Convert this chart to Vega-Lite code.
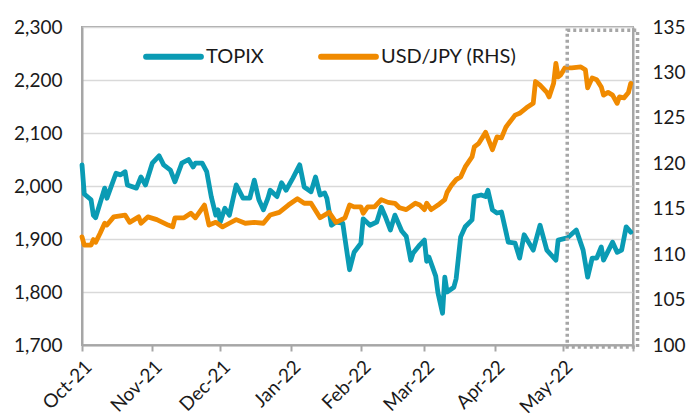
{
  "$schema": "https://vega.github.io/schema/vega-lite/v6.json",
  "width": 551,
  "height": 318,
  "autosize": "none",
  "padding": {"left": 82, "top": 27, "right": 56, "bottom": 72},
  "background": "white",
  "config": {
    "font": "Lato",
    "view": {"stroke": "#a6a6a6", "strokeWidth": 2},
    "axis": {"labelFont": "Lato", "labelFontSize": 19, "labelColor": "#1a1a1a", "domainColor": "#a6a6a6", "domainWidth": 2, "tickColor": "#a6a6a6", "tickWidth": 2, "gridColor": "#d9d9d9", "gridWidth": 1.5, "title": null},
    "legend": {"labelFont": "Lato", "labelFontSize": 20, "labelColor": "#1a1a1a"}
  },
  "datasets": {
    "topix": [
      {"date": "2021-10-01", "series": "TOPIX", "value": 2040},
      {"date": "2021-10-02", "series": "TOPIX", "value": 1985},
      {"date": "2021-10-05", "series": "TOPIX", "value": 1974},
      {"date": "2021-10-06", "series": "TOPIX", "value": 1945},
      {"date": "2021-10-07", "series": "TOPIX", "value": 1940},
      {"date": "2021-10-11", "series": "TOPIX", "value": 1996},
      {"date": "2021-10-12", "series": "TOPIX", "value": 1977},
      {"date": "2021-10-16", "series": "TOPIX", "value": 2024},
      {"date": "2021-10-18", "series": "TOPIX", "value": 2021},
      {"date": "2021-10-20", "series": "TOPIX", "value": 2027},
      {"date": "2021-10-21", "series": "TOPIX", "value": 2002},
      {"date": "2021-10-25", "series": "TOPIX", "value": 1996},
      {"date": "2021-10-27", "series": "TOPIX", "value": 2017},
      {"date": "2021-10-29", "series": "TOPIX", "value": 2002},
      {"date": "2021-11-01", "series": "TOPIX", "value": 2043},
      {"date": "2021-11-04", "series": "TOPIX", "value": 2057},
      {"date": "2021-11-06", "series": "TOPIX", "value": 2040},
      {"date": "2021-11-09", "series": "TOPIX", "value": 2030},
      {"date": "2021-11-11", "series": "TOPIX", "value": 2008},
      {"date": "2021-11-14", "series": "TOPIX", "value": 2043},
      {"date": "2021-11-17", "series": "TOPIX", "value": 2050},
      {"date": "2021-11-19", "series": "TOPIX", "value": 2036},
      {"date": "2021-11-20", "series": "TOPIX", "value": 2043},
      {"date": "2021-11-23", "series": "TOPIX", "value": 2043},
      {"date": "2021-11-25", "series": "TOPIX", "value": 2027},
      {"date": "2021-11-27", "series": "TOPIX", "value": 1980},
      {"date": "2021-11-29", "series": "TOPIX", "value": 1945},
      {"date": "2021-11-30", "series": "TOPIX", "value": 1955},
      {"date": "2021-12-01", "series": "TOPIX", "value": 1932},
      {"date": "2021-12-03", "series": "TOPIX", "value": 1958},
      {"date": "2021-12-05", "series": "TOPIX", "value": 1945},
      {"date": "2021-12-08", "series": "TOPIX", "value": 2002},
      {"date": "2021-12-11", "series": "TOPIX", "value": 1977},
      {"date": "2021-12-14", "series": "TOPIX", "value": 1977},
      {"date": "2021-12-16", "series": "TOPIX", "value": 2011},
      {"date": "2021-12-18", "series": "TOPIX", "value": 1974},
      {"date": "2021-12-20", "series": "TOPIX", "value": 1955},
      {"date": "2021-12-22", "series": "TOPIX", "value": 1977},
      {"date": "2021-12-23", "series": "TOPIX", "value": 1992},
      {"date": "2021-12-26", "series": "TOPIX", "value": 1980},
      {"date": "2021-12-28", "series": "TOPIX", "value": 2006},
      {"date": "2021-12-30", "series": "TOPIX", "value": 1992},
      {"date": "2022-01-02", "series": "TOPIX", "value": 2015},
      {"date": "2022-01-05", "series": "TOPIX", "value": 2040},
      {"date": "2022-01-07", "series": "TOPIX", "value": 1998},
      {"date": "2022-01-10", "series": "TOPIX", "value": 1989},
      {"date": "2022-01-12", "series": "TOPIX", "value": 2017},
      {"date": "2022-01-14", "series": "TOPIX", "value": 1983},
      {"date": "2022-01-16", "series": "TOPIX", "value": 1987},
      {"date": "2022-01-17", "series": "TOPIX", "value": 1977},
      {"date": "2022-01-19", "series": "TOPIX", "value": 1926},
      {"date": "2022-01-21", "series": "TOPIX", "value": 1932},
      {"date": "2022-01-24", "series": "TOPIX", "value": 1930},
      {"date": "2022-01-25", "series": "TOPIX", "value": 1900},
      {"date": "2022-01-27", "series": "TOPIX", "value": 1842},
      {"date": "2022-01-29", "series": "TOPIX", "value": 1875},
      {"date": "2022-02-01", "series": "TOPIX", "value": 1892},
      {"date": "2022-02-02", "series": "TOPIX", "value": 1938},
      {"date": "2022-02-05", "series": "TOPIX", "value": 1926},
      {"date": "2022-02-08", "series": "TOPIX", "value": 1932},
      {"date": "2022-02-10", "series": "TOPIX", "value": 1960},
      {"date": "2022-02-12", "series": "TOPIX", "value": 1940},
      {"date": "2022-02-14", "series": "TOPIX", "value": 1917},
      {"date": "2022-02-16", "series": "TOPIX", "value": 1945},
      {"date": "2022-02-19", "series": "TOPIX", "value": 1915},
      {"date": "2022-02-21", "series": "TOPIX", "value": 1905},
      {"date": "2022-02-23", "series": "TOPIX", "value": 1860},
      {"date": "2022-02-24", "series": "TOPIX", "value": 1873},
      {"date": "2022-02-27", "series": "TOPIX", "value": 1889},
      {"date": "2022-03-01", "series": "TOPIX", "value": 1898},
      {"date": "2022-03-02", "series": "TOPIX", "value": 1858},
      {"date": "2022-03-03", "series": "TOPIX", "value": 1866},
      {"date": "2022-03-06", "series": "TOPIX", "value": 1830},
      {"date": "2022-03-07", "series": "TOPIX", "value": 1798},
      {"date": "2022-03-09", "series": "TOPIX", "value": 1760},
      {"date": "2022-03-10", "series": "TOPIX", "value": 1828},
      {"date": "2022-03-11", "series": "TOPIX", "value": 1800},
      {"date": "2022-03-14", "series": "TOPIX", "value": 1809},
      {"date": "2022-03-15", "series": "TOPIX", "value": 1825},
      {"date": "2022-03-17", "series": "TOPIX", "value": 1904},
      {"date": "2022-03-19", "series": "TOPIX", "value": 1923},
      {"date": "2022-03-22", "series": "TOPIX", "value": 1936},
      {"date": "2022-03-23", "series": "TOPIX", "value": 1980},
      {"date": "2022-03-26", "series": "TOPIX", "value": 1983},
      {"date": "2022-03-28", "series": "TOPIX", "value": 1980},
      {"date": "2022-03-29", "series": "TOPIX", "value": 1992},
      {"date": "2022-03-31", "series": "TOPIX", "value": 1955},
      {"date": "2022-04-02", "series": "TOPIX", "value": 1949},
      {"date": "2022-04-04", "series": "TOPIX", "value": 1951},
      {"date": "2022-04-07", "series": "TOPIX", "value": 1894},
      {"date": "2022-04-10", "series": "TOPIX", "value": 1892},
      {"date": "2022-04-12", "series": "TOPIX", "value": 1864},
      {"date": "2022-04-14", "series": "TOPIX", "value": 1908},
      {"date": "2022-04-18", "series": "TOPIX", "value": 1879},
      {"date": "2022-04-21", "series": "TOPIX", "value": 1926},
      {"date": "2022-04-24", "series": "TOPIX", "value": 1879},
      {"date": "2022-04-28", "series": "TOPIX", "value": 1860},
      {"date": "2022-04-29", "series": "TOPIX", "value": 1898},
      {"date": "2022-05-03", "series": "TOPIX", "value": 1902},
      {"date": "2022-05-07", "series": "TOPIX", "value": 1917},
      {"date": "2022-05-10", "series": "TOPIX", "value": 1879},
      {"date": "2022-05-12", "series": "TOPIX", "value": 1828},
      {"date": "2022-05-14", "series": "TOPIX", "value": 1864},
      {"date": "2022-05-16", "series": "TOPIX", "value": 1864},
      {"date": "2022-05-18", "series": "TOPIX", "value": 1885},
      {"date": "2022-05-19", "series": "TOPIX", "value": 1860},
      {"date": "2022-05-23", "series": "TOPIX", "value": 1894},
      {"date": "2022-05-25", "series": "TOPIX", "value": 1875},
      {"date": "2022-05-27", "series": "TOPIX", "value": 1879},
      {"date": "2022-05-29", "series": "TOPIX", "value": 1923},
      {"date": "2022-05-31", "series": "TOPIX", "value": 1913}
    ],
    "usd": [
      {"date": "2021-10-01", "series": "USD/JPY (RHS)", "value": 111.9},
      {"date": "2021-10-02", "series": "USD/JPY (RHS)", "value": 111.0},
      {"date": "2021-10-05", "series": "USD/JPY (RHS)", "value": 111.0},
      {"date": "2021-10-06", "series": "USD/JPY (RHS)", "value": 111.6},
      {"date": "2021-10-07", "series": "USD/JPY (RHS)", "value": 111.3},
      {"date": "2021-10-09", "series": "USD/JPY (RHS)", "value": 112.3},
      {"date": "2021-10-11", "series": "USD/JPY (RHS)", "value": 113.4},
      {"date": "2021-10-12", "series": "USD/JPY (RHS)", "value": 113.2},
      {"date": "2021-10-15", "series": "USD/JPY (RHS)", "value": 114.1},
      {"date": "2021-10-20", "series": "USD/JPY (RHS)", "value": 114.3},
      {"date": "2021-10-22", "series": "USD/JPY (RHS)", "value": 113.5},
      {"date": "2021-10-26", "series": "USD/JPY (RHS)", "value": 114.1},
      {"date": "2021-10-27", "series": "USD/JPY (RHS)", "value": 113.4},
      {"date": "2021-10-30", "series": "USD/JPY (RHS)", "value": 114.1},
      {"date": "2021-11-03", "series": "USD/JPY (RHS)", "value": 113.8},
      {"date": "2021-11-08", "series": "USD/JPY (RHS)", "value": 113.2},
      {"date": "2021-11-10", "series": "USD/JPY (RHS)", "value": 113.0},
      {"date": "2021-11-11", "series": "USD/JPY (RHS)", "value": 114.0},
      {"date": "2021-11-15", "series": "USD/JPY (RHS)", "value": 114.0},
      {"date": "2021-11-18", "series": "USD/JPY (RHS)", "value": 114.5},
      {"date": "2021-11-20", "series": "USD/JPY (RHS)", "value": 114.0},
      {"date": "2021-11-24", "series": "USD/JPY (RHS)", "value": 115.4},
      {"date": "2021-11-26", "series": "USD/JPY (RHS)", "value": 113.2},
      {"date": "2021-11-29", "series": "USD/JPY (RHS)", "value": 113.5},
      {"date": "2021-12-02", "series": "USD/JPY (RHS)", "value": 113.0},
      {"date": "2021-12-05", "series": "USD/JPY (RHS)", "value": 113.4},
      {"date": "2021-12-08", "series": "USD/JPY (RHS)", "value": 113.8},
      {"date": "2021-12-12", "series": "USD/JPY (RHS)", "value": 113.4},
      {"date": "2021-12-16", "series": "USD/JPY (RHS)", "value": 113.5},
      {"date": "2021-12-20", "series": "USD/JPY (RHS)", "value": 113.4},
      {"date": "2021-12-23", "series": "USD/JPY (RHS)", "value": 114.3},
      {"date": "2021-12-27", "series": "USD/JPY (RHS)", "value": 114.6},
      {"date": "2021-12-31", "series": "USD/JPY (RHS)", "value": 115.4},
      {"date": "2022-01-04", "series": "USD/JPY (RHS)", "value": 116.1},
      {"date": "2022-01-07", "series": "USD/JPY (RHS)", "value": 115.6},
      {"date": "2022-01-10", "series": "USD/JPY (RHS)", "value": 115.6},
      {"date": "2022-01-14", "series": "USD/JPY (RHS)", "value": 114.0},
      {"date": "2022-01-18", "series": "USD/JPY (RHS)", "value": 114.6},
      {"date": "2022-01-21", "series": "USD/JPY (RHS)", "value": 113.5},
      {"date": "2022-01-25", "series": "USD/JPY (RHS)", "value": 114.0},
      {"date": "2022-01-27", "series": "USD/JPY (RHS)", "value": 115.4},
      {"date": "2022-01-29", "series": "USD/JPY (RHS)", "value": 115.2},
      {"date": "2022-02-01", "series": "USD/JPY (RHS)", "value": 115.2},
      {"date": "2022-02-02", "series": "USD/JPY (RHS)", "value": 114.5},
      {"date": "2022-02-04", "series": "USD/JPY (RHS)", "value": 115.2},
      {"date": "2022-02-07", "series": "USD/JPY (RHS)", "value": 115.2},
      {"date": "2022-02-10", "series": "USD/JPY (RHS)", "value": 116.0},
      {"date": "2022-02-13", "series": "USD/JPY (RHS)", "value": 115.7},
      {"date": "2022-02-16", "series": "USD/JPY (RHS)", "value": 115.6},
      {"date": "2022-02-18", "series": "USD/JPY (RHS)", "value": 115.1},
      {"date": "2022-02-21", "series": "USD/JPY (RHS)", "value": 114.9},
      {"date": "2022-02-25", "series": "USD/JPY (RHS)", "value": 115.6},
      {"date": "2022-02-27", "series": "USD/JPY (RHS)", "value": 115.4},
      {"date": "2022-03-01", "series": "USD/JPY (RHS)", "value": 114.9},
      {"date": "2022-03-02", "series": "USD/JPY (RHS)", "value": 115.6},
      {"date": "2022-03-04", "series": "USD/JPY (RHS)", "value": 114.9},
      {"date": "2022-03-07", "series": "USD/JPY (RHS)", "value": 115.4},
      {"date": "2022-03-10", "series": "USD/JPY (RHS)", "value": 116.0},
      {"date": "2022-03-11", "series": "USD/JPY (RHS)", "value": 116.8},
      {"date": "2022-03-13", "series": "USD/JPY (RHS)", "value": 117.6},
      {"date": "2022-03-15", "series": "USD/JPY (RHS)", "value": 118.2},
      {"date": "2022-03-17", "series": "USD/JPY (RHS)", "value": 118.5},
      {"date": "2022-03-19", "series": "USD/JPY (RHS)", "value": 119.6},
      {"date": "2022-03-22", "series": "USD/JPY (RHS)", "value": 120.7},
      {"date": "2022-03-23", "series": "USD/JPY (RHS)", "value": 121.8},
      {"date": "2022-03-25", "series": "USD/JPY (RHS)", "value": 122.2},
      {"date": "2022-03-28", "series": "USD/JPY (RHS)", "value": 123.4},
      {"date": "2022-03-31", "series": "USD/JPY (RHS)", "value": 121.5},
      {"date": "2022-04-02", "series": "USD/JPY (RHS)", "value": 122.9},
      {"date": "2022-04-04", "series": "USD/JPY (RHS)", "value": 122.8},
      {"date": "2022-04-06", "series": "USD/JPY (RHS)", "value": 124.0},
      {"date": "2022-04-10", "series": "USD/JPY (RHS)", "value": 125.3},
      {"date": "2022-04-12", "series": "USD/JPY (RHS)", "value": 125.5},
      {"date": "2022-04-15", "series": "USD/JPY (RHS)", "value": 126.1},
      {"date": "2022-04-18", "series": "USD/JPY (RHS)", "value": 126.6},
      {"date": "2022-04-19", "series": "USD/JPY (RHS)", "value": 129.0},
      {"date": "2022-04-21", "series": "USD/JPY (RHS)", "value": 128.6},
      {"date": "2022-04-24", "series": "USD/JPY (RHS)", "value": 127.8},
      {"date": "2022-04-25", "series": "USD/JPY (RHS)", "value": 127.3},
      {"date": "2022-04-27", "series": "USD/JPY (RHS)", "value": 128.8},
      {"date": "2022-04-28", "series": "USD/JPY (RHS)", "value": 131.0},
      {"date": "2022-04-29", "series": "USD/JPY (RHS)", "value": 129.5},
      {"date": "2022-04-30", "series": "USD/JPY (RHS)", "value": 129.7},
      {"date": "2022-05-02", "series": "USD/JPY (RHS)", "value": 130.5},
      {"date": "2022-05-05", "series": "USD/JPY (RHS)", "value": 130.5},
      {"date": "2022-05-09", "series": "USD/JPY (RHS)", "value": 130.6},
      {"date": "2022-05-11", "series": "USD/JPY (RHS)", "value": 130.3},
      {"date": "2022-05-12", "series": "USD/JPY (RHS)", "value": 128.3},
      {"date": "2022-05-14", "series": "USD/JPY (RHS)", "value": 129.4},
      {"date": "2022-05-16", "series": "USD/JPY (RHS)", "value": 129.2},
      {"date": "2022-05-18", "series": "USD/JPY (RHS)", "value": 128.4},
      {"date": "2022-05-19", "series": "USD/JPY (RHS)", "value": 127.5},
      {"date": "2022-05-21", "series": "USD/JPY (RHS)", "value": 127.8},
      {"date": "2022-05-23", "series": "USD/JPY (RHS)", "value": 127.5},
      {"date": "2022-05-25", "series": "USD/JPY (RHS)", "value": 126.6},
      {"date": "2022-05-26", "series": "USD/JPY (RHS)", "value": 127.3},
      {"date": "2022-05-28", "series": "USD/JPY (RHS)", "value": 127.2},
      {"date": "2022-05-30", "series": "USD/JPY (RHS)", "value": 127.8},
      {"date": "2022-05-31", "series": "USD/JPY (RHS)", "value": 128.8}
    ],
    "box": [
      {"date": "2022-05-03", "date2": "2022-06-03", "lo": 1696, "hi": 2294}
    ]
  },
  "encoding": {
    "x": {"field": "date", "type": "temporal",
      "scale": {"type": "utc", "domain": [{"year": 2021, "month": 10, "date": 1, "utc": true}, {"year": 2022, "month": 6, "date": 1, "utc": true}]},
      "axis": {"labelAngle": -45, "labelAlign": "right", "labelBaseline": "top", "labelPadding": 6, "tickSize": 6, "grid": false, "labelOverlap": false,
        "values": [{"year": 2021, "month": 10, "date": 1, "utc": true}, {"year": 2021, "month": 11, "date": 1, "utc": true}, {"year": 2021, "month": 12, "date": 1, "utc": true}, {"year": 2022, "month": 1, "date": 1, "utc": true}, {"year": 2022, "month": 2, "date": 1, "utc": true}, {"year": 2022, "month": 3, "date": 1, "utc": true}, {"year": 2022, "month": 4, "date": 1, "utc": true}, {"year": 2022, "month": 5, "date": 1, "utc": true}, {"year": 2022, "month": 6, "date": 1, "utc": true}],
        "labelExpr": "utcmonth(datum.value) == 5 ? '' : utcFormat(datum.value, '%b-%y')"}}
  },
  "layer": [
    {
      "data": {"name": "topix"},
      "mark": {"type": "line", "strokeWidth": 4.8, "strokeJoin": "round", "strokeCap": "round"},
      "encoding": {
        "y": {"field": "value", "type": "quantitative", "scale": {"domain": [1700, 2300], "zero": false, "nice": false},
          "axis": {"values": [1700, 1800, 1900, 2000, 2100, 2200, 2300], "format": ",.0f", "ticks": false, "labelPadding": 20, "grid": true}},
        "color": {"field": "series", "type": "nominal", "scale": {"domain": ["TOPIX", "USD/JPY (RHS)"], "range": ["#0A9BB4", "#F08A00"]},
          "legend": {"title": null, "orient": "none", "legendX": 61, "legendY": -1, "direction": "horizontal", "symbolType": "stroke", "symbolSize": 3000, "symbolStrokeWidth": 6, "labelOffset": 2, "columnPadding": 45,
            "encode": {"symbols": {"update": {"strokeCap": {"value": "round"}}}}}}
      }
    },
    {
      "data": {"name": "usd"},
      "mark": {"type": "line", "strokeWidth": 4.8, "strokeJoin": "round", "strokeCap": "round"},
      "encoding": {
        "y": {"field": "value", "type": "quantitative", "scale": {"domain": [100, 135], "zero": false, "nice": false},
          "axis": {"orient": "right", "values": [100, 105, 110, 115, 120, 125, 130, 135], "ticks": false, "labelPadding": 19, "grid": false}},
        "color": {"field": "series", "type": "nominal"}
      }
    },
    {
      "data": {"name": "box"},
      "mark": {"type": "rect", "fill": null, "stroke": "#a6a6a6", "strokeWidth": 3.5, "strokeDash": [3, 3]},
      "encoding": {
        "x2": {"field": "date2"},
        "y": {"field": "lo", "type": "quantitative", "scale": {"domain": [1700, 2300], "nice": false, "zero": false}, "axis": null},
        "y2": {"field": "hi"}
      }
    }
  ],
  "resolve": {"scale": {"y": "independent"}, "axis": {"y": "independent"}}
}
